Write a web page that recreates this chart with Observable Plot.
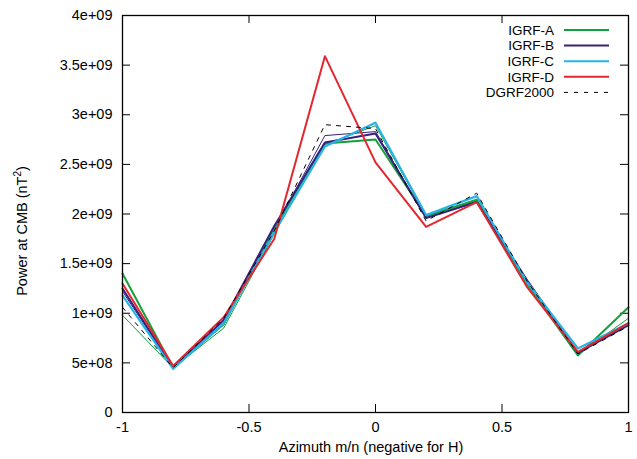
<!DOCTYPE html>
<html>
<head>
<meta charset="utf-8">
<script src="https://cdn.jsdelivr.net/npm/d3@7"></script>
<script src="https://cdn.jsdelivr.net/npm/@observablehq/plot@0.6"></script>
<style>
  html, body { margin: 0; padding: 0; background: #fff; }
  svg { display: block; }
</style>
</head>
<body>
<div id="chart"></div>
<script>
// ---- data (values in units of 1e9 nT^2) ----
const azimuth = [-1, -0.8, -0.6, -0.4, -0.2, 0, 0.2, 0.4, 0.6, 0.8, 1];
const igrfA   = [1.40, 0.45, 0.89, 1.85, 2.71, 2.75, 1.98, 2.14, 1.29, 0.575, 1.06];
const igrfB   = [1.25, 0.45, 0.93, 1.88, 2.72, 2.81, 1.96, 2.12, 1.33, 0.60, 0.88];
const igrfC   = [1.18, 0.44, 0.90, 1.82, 2.68, 2.92, 1.99, 2.18, 1.31, 0.645, 0.90];
const igrfD   = [1.30, 0.47, 0.96, 1.75, 3.59, 2.52, 1.87, 2.12, 1.26, 0.61, 0.90];
const dgrf2000 = [1.06, 0.45, 0.95, 1.83, 2.90, 2.86, 1.93, 2.21, 1.32, 0.59, 0.87];
// unlabelled thin companion curves
const thinA   = [0.98, 0.45, 0.85, 1.80, 2.70, 2.89, 1.98, 2.15, 1.30, 0.58, 0.95];
const thinB   = [1.22, 0.45, 0.93, 1.85, 2.79, 2.83, 1.96, 2.13, 1.32, 0.60, 0.89];

const seriesNames = ["IGRF-A", "IGRF-B", "IGRF-C", "IGRF-D", "DGRF2000"];
const xTicks = [-1, -0.5, 0, 0.5, 1];
const yTicks = [0, 0.5e9, 1e9, 1.5e9, 2e9, 2.5e9, 3e9, 3.5e9, 4e9];

const colors = {"IGRF-A": "#12a03a", "IGRF-B": "#38207f", "IGRF-C": "#26b4e6", "IGRF-D": "#e4262f", "DGRF2000": "#000000"};

const toRows = (name, vals) => azimuth.map((x, i) => ({name, x, y: vals[i] * 1e9}));

const W = 637, H = 459;
const mL = 122, mR = 9, mT = 15, mB = 47;
const pw = W - mL - mR, ph = H - mT - mB;
const font = "'Liberation Sans', Arial, Helvetica, sans-serif";
const fs = 14.5;

function expFmt(v) {
  if (v === 0) return "0";
  const e = Math.floor(Math.log10(v) + 1e-9);
  const m = +(v / Math.pow(10, e)).toFixed(3);
  return `${m}e+${String(e).padStart(2, "0")}`;
}
const xFmt = d => String(d);

const lineOpts = (name, width, dash) => ({x: "x", y: "y", stroke: colors[name], strokeWidth: width, strokeDasharray: dash});

const plot = Plot.plot({
  width: W, height: H,
  marginLeft: mL, marginRight: mR, marginTop: mT, marginBottom: mB,
  style: {fontFamily: font, fontSize: fs + "px", background: "#fff", color: "#000"},
  x: {domain: [-1, 1], ticks: xTicks, tickFormat: xFmt, label: null},
  y: {domain: [0, 4e9], ticks: yTicks, tickFormat: expFmt, label: null},
  marks: [
    Plot.axisX(xTicks, {tickSize: 0, tickPadding: 9, fontSize: fs, label: null, tickFormat: xFmt}),
    Plot.axisY(yTicks, {tickSize: 0, tickPadding: 10, fontSize: fs, label: null, tickFormat: expFmt}),
    // inward ticks (bottom/top, left/right)
    Plot.tickX(xTicks.slice(1, -1), {x: d => d, insetTop: ph - 8, stroke: "#000", strokeWidth: 1}),
    Plot.tickX(xTicks.slice(1, -1), {x: d => d, insetBottom: ph - 8, stroke: "#000", strokeWidth: 1}),
    Plot.tickY(yTicks.slice(1, -1), {y: d => d, insetRight: pw - 8, stroke: "#000", strokeWidth: 1}),
    Plot.tickY(yTicks.slice(1, -1), {y: d => d, insetLeft: pw - 8, stroke: "#000", strokeWidth: 1}),
    // thin companion curves
    Plot.line(toRows("IGRF-A", thinA), lineOpts("IGRF-A", 1)),
    Plot.line(toRows("IGRF-B", thinB), lineOpts("IGRF-B", 1)),
    // main curves
    Plot.line(toRows("IGRF-A", igrfA), lineOpts("IGRF-A", 2)),
    Plot.line(toRows("IGRF-B", igrfB), lineOpts("IGRF-B", 2)),
    Plot.line(toRows("IGRF-C", igrfC), lineOpts("IGRF-C", 2.2)),
    Plot.line(toRows("IGRF-D", igrfD), lineOpts("IGRF-D", 2)),
    Plot.line(toRows("DGRF2000", dgrf2000), lineOpts("DGRF2000", 1, "4,6")),
    Plot.frame({stroke: "#000", strokeWidth: 1.3})
  ]
});

const svg = d3.select(plot);
// axis titles
svg.append("text")
  .attr("x", 371).attr("y", 452)
  .attr("text-anchor", "middle")
  .attr("font-family", font).attr("font-size", fs)
  .text("Azimuth m/n (negative for H)");
const yl = svg.append("text")
  .attr("transform", "translate(27,231) rotate(-90)")
  .attr("text-anchor", "middle")
  .attr("font-family", font).attr("font-size", fs);
yl.append("tspan").text("Power at CMB (nT");
yl.append("tspan").attr("font-size", 10).attr("dy", -6).text("2");
yl.append("tspan").attr("dy", 6).text(")");

// legend
const leg = svg.append("g");
seriesNames.forEach((name, i) => {
  const y = 30 + i * 15.6;
  leg.append("text")
    .attr("x", 554).attr("y", y).attr("dy", "0.35em")
    .attr("text-anchor", "end")
    .attr("font-family", font).attr("font-size", 13.5)
    .text(name);
  leg.append("line")
    .attr("x1", 564).attr("x2", 609).attr("y1", y).attr("y2", y)
    .attr("stroke", colors[name])
    .attr("stroke-width", name === "DGRF2000" ? 1 : 2)
    .attr("stroke-dasharray", name === "DGRF2000" ? "4,6" : null);
});

document.getElementById("chart").appendChild(plot);
</script>
</body>
</html>
